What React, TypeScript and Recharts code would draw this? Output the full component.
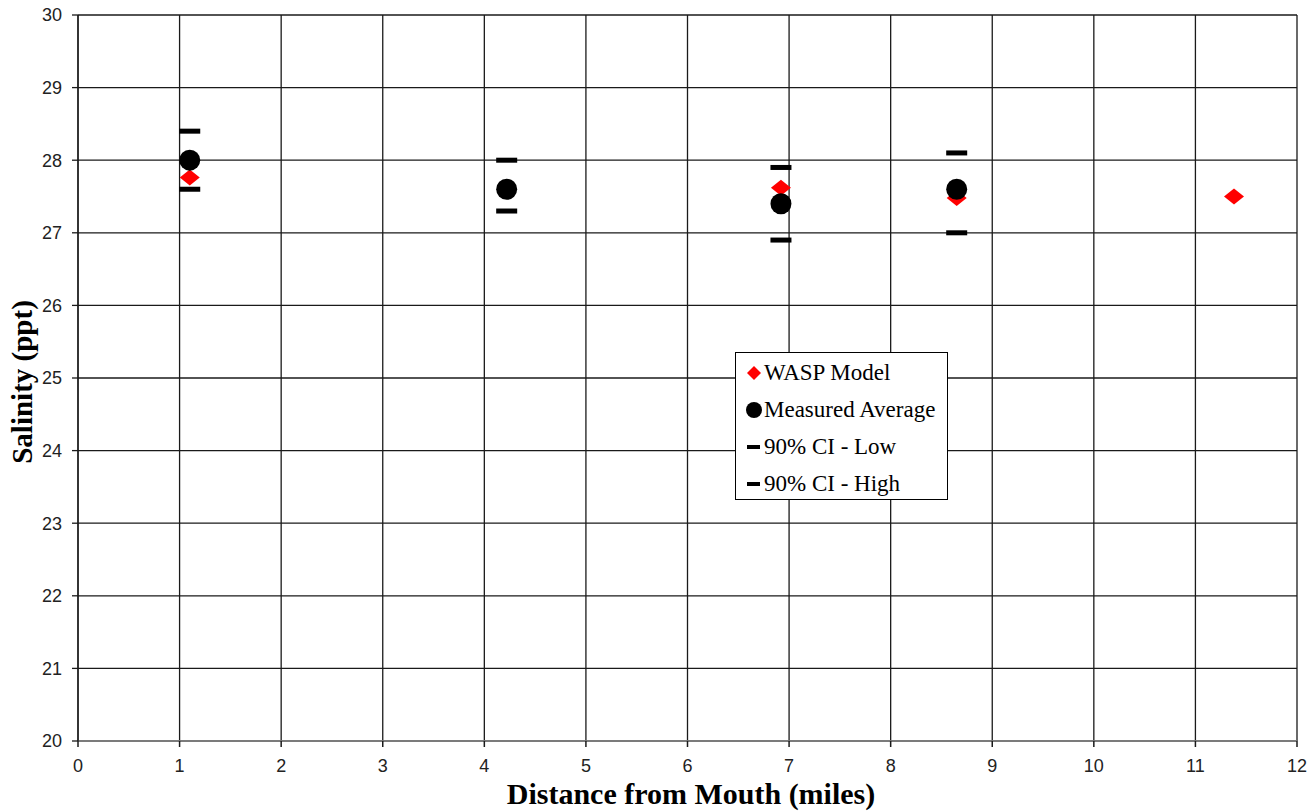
import React from "react";
import { ScatterChart, Scatter, XAxis, YAxis, CartesianGrid, Legend } from "recharts";

const measuredDistances = [1.1, 4.22, 6.92, 8.65];
const waspDistances = [1.1, 4.22, 6.92, 8.65, 11.38];
const waspModel = [27.76, 27.6, 27.62, 27.48, 27.5];
const measuredAvg = [28.0, 27.6, 27.4, 27.6];
const ciLow = [27.6, 27.3, 26.9, 27.0];
const ciHigh = [28.4, 28.0, 27.9, 28.1];
const xTicks = [0, 1, 2, 3, 4, 5, 6, 7, 8, 9, 10, 11, 12];
const yTicks = [20, 21, 22, 23, 24, 25, 26, 27, 28, 29, 30];
const legendLabels = ["WASP Model", "Measured Average", "90% CI - Low", "90% CI - High"];

const waspData = waspDistances.map((x, i) => ({ x, y: waspModel[i] }));
const measuredData = measuredDistances.map((x, i) => ({ x, y: measuredAvg[i] }));
const lowData = measuredDistances.map((x, i) => ({ x, y: ciLow[i] }));
const highData = measuredDistances.map((x, i) => ({ x, y: ciHigh[i] }));

const Diamond = (p: any) => {
  const { cx, cy } = p;
  if (cx == null || cy == null) return <g />;
  return <polygon points={`${cx},${cy - 8} ${cx + 10},${cy} ${cx},${cy + 8} ${cx - 10},${cy}`} fill="#ff0000" />;
};
const Dot = (p: any) => {
  const { cx, cy } = p;
  if (cx == null || cy == null) return <g />;
  return <circle cx={cx} cy={cy} r={10.5} fill="#000" />;
};
const Dash = (p: any) => {
  const { cx, cy } = p;
  if (cx == null || cy == null) return <g />;
  return <rect x={cx - 10.5} y={cy - 2.5} width={21} height={5} fill="#000" />;
};

const LegendContent = () => {
  const markers = [
    <svg width={20} height={20} key="a"><polygon points="10,3 17,10 10,17 3,10" fill="#ff0000" /></svg>,
    <svg width={20} height={20} key="b"><circle cx={10} cy={10} r={8} fill="#000" /></svg>,
    <svg width={20} height={20} key="c"><rect x={3} y={8} width={13} height={4} fill="#000" /></svg>,
    <svg width={20} height={20} key="d"><rect x={3} y={8} width={13} height={4} fill="#000" /></svg>,
  ];
  return (
    <div
      style={{
        border: "1px solid #000",
        background: "#fff",
        width: 213,
        height: 148,
        boxSizing: "border-box",
        padding: "1px 0 0 8px",
        fontFamily: "'Liberation Serif', 'Times New Roman', serif",
        fontSize: 23,
        color: "#000",
      }}
    >
      {legendLabels.map((l, i) => (
        <div key={l} style={{ display: "flex", alignItems: "center", height: 37, whiteSpace: "nowrap" }}>
          <span style={{ display: "inline-block", width: 20, height: 20, marginRight: 0 }}>{markers[i]}</span>
          <span>{l}</span>
        </div>
      ))}
    </div>
  );
};

export default function App() {
  return (
    <div style={{ position: "absolute", left: 0, top: 0, width: 1312, height: 811, background: "#fff" }}>
      <ScatterChart width={1312} height={811} margin={{ top: 15, right: 15, bottom: 30, left: 0 }}>
        <CartesianGrid stroke="#1a1a1a" strokeWidth={1.3} />
        <XAxis
          type="number"
          dataKey="x"
          domain={[0, 12]}
          ticks={xTicks}
          interval={0}
          height={40}
          tickSize={6}
          tickMargin={12}
          stroke="#888"
          strokeWidth={1.5}
          tickLine={{ stroke: "#1a1a1a" }}
          tick={{ fill: "#222", fontSize: 18, fontFamily: "'Liberation Sans', Arial, sans-serif" }}
          allowDataOverflow
          label={() => (
            <text
              x={691}
              y={804}
              textAnchor="middle"
              fontFamily="'Liberation Serif', 'Times New Roman', serif"
              fontWeight="bold"
              fontSize={30}
              fill="#000"
            >
              Distance from Mouth (miles)
            </text>
          )}
        />
        <YAxis
          type="number"
          dataKey="y"
          domain={[20, 30]}
          ticks={yTicks}
          interval={0}
          width={78}
          tickSize={6}
          tickMargin={10}
          stroke="#1a1a1a"
          strokeWidth={1.3}
          tick={{ fill: "#222", fontSize: 18, fontFamily: "'Liberation Sans', Arial, sans-serif" }}
          allowDataOverflow
          label={() => (
            <text
              x={32}
              y={382}
              transform="rotate(-90 32 382)"
              textAnchor="middle"
              fontFamily="'Liberation Serif', 'Times New Roman', serif"
              fontWeight="bold"
              fontSize={29}
              fill="#000"
            >
              Salinity (ppt)
            </text>
          )}
        />
        <Legend
          layout="vertical"
          align="center"
          verticalAlign="middle"
          content={<LegendContent />}
          wrapperStyle={{ left: 735, top: 352, width: 213, height: 148 }}
        />
        <Scatter name="WASP Model" data={waspData} shape={Diamond} isAnimationActive={false} />
        <Scatter name="90% CI - Low" data={lowData} shape={Dash} isAnimationActive={false} />
        <Scatter name="90% CI - High" data={highData} shape={Dash} isAnimationActive={false} />
        <Scatter name="Measured Average" data={measuredData} shape={Dot} isAnimationActive={false} />
      </ScatterChart>
    </div>
  );
}
